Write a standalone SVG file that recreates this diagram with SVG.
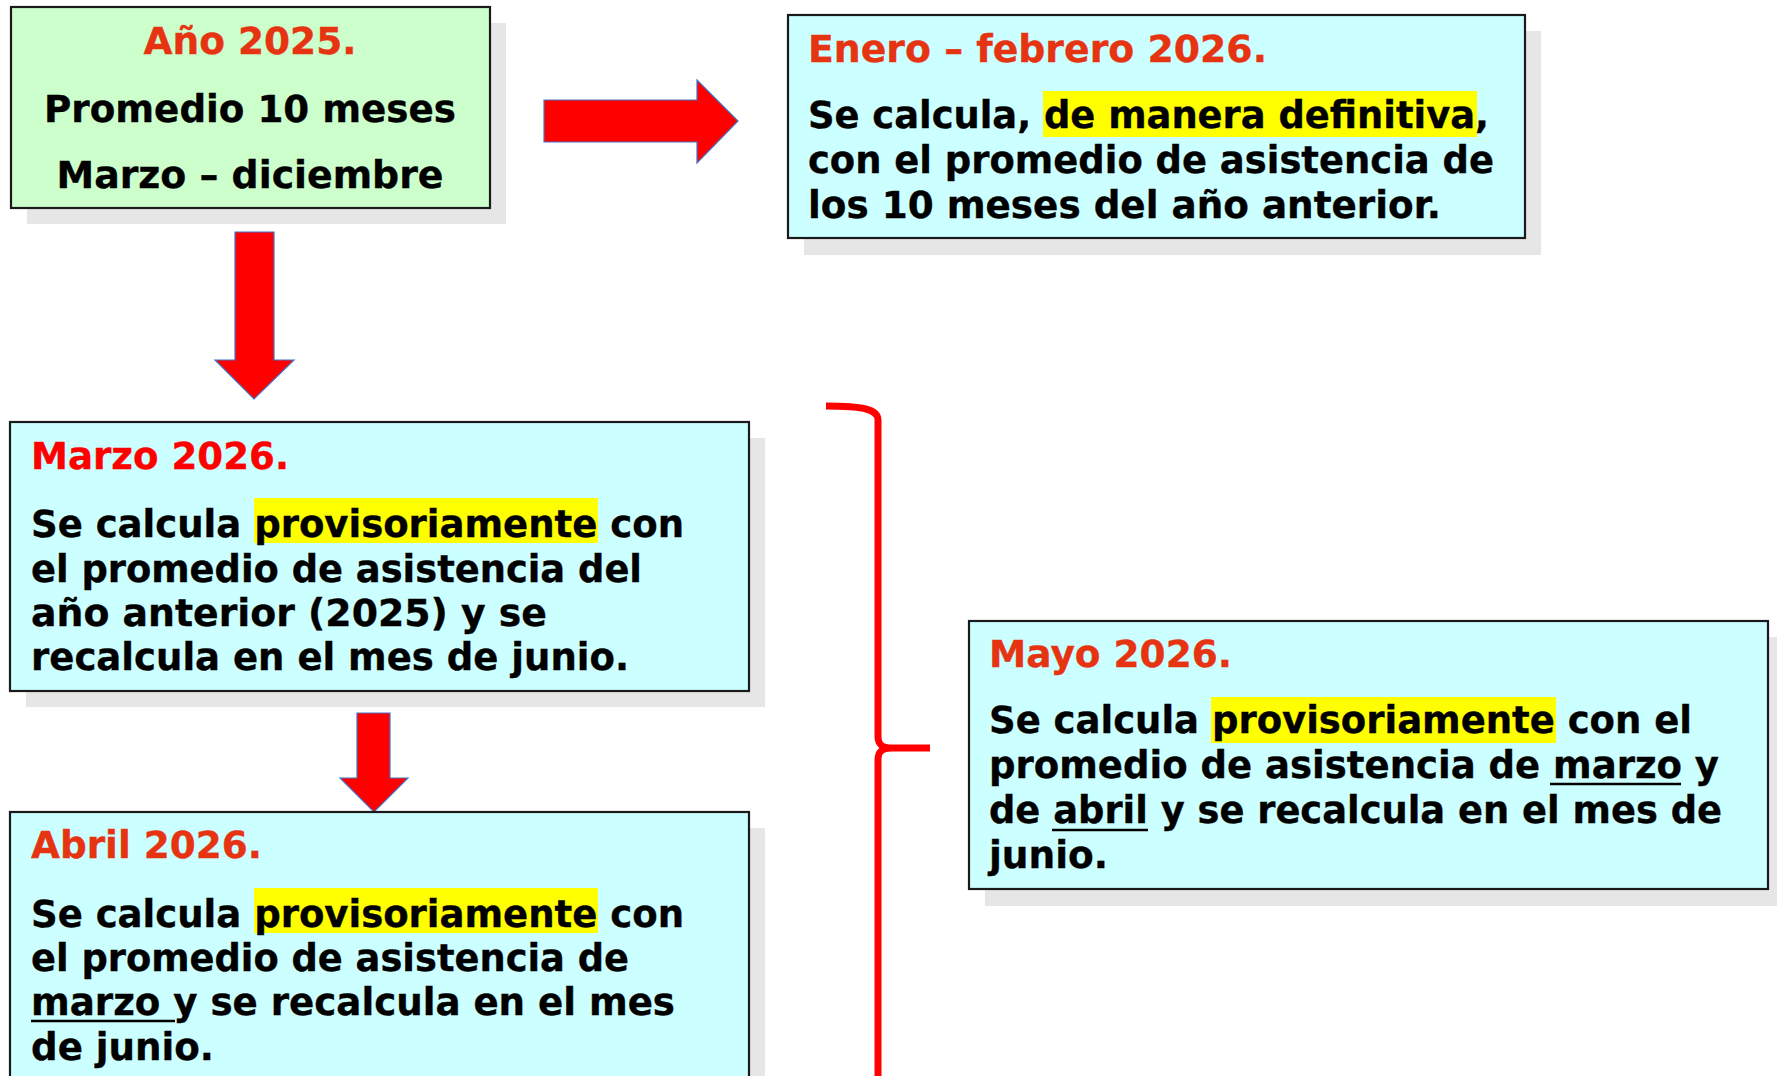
<svg xmlns="http://www.w3.org/2000/svg" width="1777" height="1076" viewBox="0 0 1777 1076">
<style>
text{font-family:"DejaVu Sans",Verdana,sans-serif;font-weight:bold;font-size:37px;fill:#000;stroke:#000;stroke-width:0.35}
.t{fill:#E63312;stroke:#E63312}
.tr{fill:#FF0000;stroke:#FF0000}
.sh{fill:#E6E6E6}
.box{stroke:#1a1a1a;stroke-width:2.2}
.g{fill:#CCFFCC}
.c{fill:#CCFFFF}
.hl{fill:#FFFF00}
.ul{stroke:#000;stroke-width:2.6}
.arrow{fill:#FF0000;stroke:#4472C4;stroke-width:1.2}
.brace{fill:none;stroke:#FF0000;stroke-width:7;stroke-linecap:butt}
</style>
<rect width="1777" height="1076" fill="#fff"/>

<g id="connectors">
<polygon class="arrow" points="544,100 697,100 697,80 738,121 697,163 697,142 544,142"/>
<polygon class="arrow" points="235,232 274,232 274,360 294,360 254,399 215,360 235,360"/>
<polygon class="arrow" points="357,713 390,713 390,778 408,778 374,812 340,778 357,778"/>
<path class="brace" d="M826,406 C862,406 878,409 878,420 L878,736 C878,744 881,748 892,748 L930,748 M892,748 C881,748 878,752 878,760 L878,1080"/>
</g>

<g id="node-2025">
<rect class="sh" x="27" y="23" width="479" height="201"/>
<rect class="box g" x="11" y="7" width="479" height="201"/>
<text class="t" x="250" y="54" text-anchor="middle" textLength="213" lengthAdjust="spacingAndGlyphs">Año 2025.</text>
<text x="250" y="122" text-anchor="middle" textLength="412" lengthAdjust="spacingAndGlyphs">Promedio 10 meses</text>
<text x="250" y="188" text-anchor="middle" textLength="387" lengthAdjust="spacingAndGlyphs">Marzo – diciembre</text>
</g>

<g id="node-enero">
<rect class="sh" x="804" y="31" width="737" height="224"/>
<rect class="box c" x="788" y="15" width="737" height="223"/>
<rect class="hl" x="1043" y="91" width="434" height="46"/>
<text class="t" x="808" y="62" textLength="459" lengthAdjust="spacingAndGlyphs">Enero – febrero 2026.</text>
<text x="808" y="128" textLength="681" lengthAdjust="spacingAndGlyphs">Se calcula, de manera definitiva,</text>
<text x="808" y="173" textLength="686" lengthAdjust="spacingAndGlyphs">con el promedio de asistencia de</text>
<text x="808" y="218" textLength="633" lengthAdjust="spacingAndGlyphs">los 10 meses del año anterior.</text>
</g>

<g id="node-marzo">
<rect class="sh" x="26" y="438" width="739" height="269"/>
<rect class="box c" x="10" y="422" width="739" height="269"/>
<rect class="hl" x="254" y="498" width="344" height="45"/>
<text class="tr" x="31" y="469" textLength="258" lengthAdjust="spacingAndGlyphs">Marzo 2026.</text>
<text x="31" y="537" textLength="653" lengthAdjust="spacingAndGlyphs">Se calcula provisoriamente con</text>
<text x="31" y="582" textLength="611" lengthAdjust="spacingAndGlyphs">el promedio de asistencia del</text>
<text x="31" y="626" textLength="516" lengthAdjust="spacingAndGlyphs">año anterior (2025) y se</text>
<text x="31" y="670" textLength="598" lengthAdjust="spacingAndGlyphs">recalcula en el mes de junio.</text>
</g>

<g id="node-abril">
<rect class="sh" x="26" y="828" width="739" height="300"/>
<rect class="box c" x="10" y="812" width="739" height="300"/>
<rect class="hl" x="254" y="888" width="344" height="45"/>
<text class="t" x="31" y="858" textLength="231" lengthAdjust="spacingAndGlyphs">Abril 2026.</text>
<text x="31" y="927" textLength="653" lengthAdjust="spacingAndGlyphs">Se calcula provisoriamente con</text>
<text x="31" y="971" textLength="598" lengthAdjust="spacingAndGlyphs">el promedio de asistencia de</text>
<text x="31" y="1015" textLength="644" lengthAdjust="spacingAndGlyphs">marzo y se recalcula en el mes</text>
<line class="ul" x1="31" y1="1021" x2="175" y2="1021"/>
<text x="31" y="1060" textLength="183" lengthAdjust="spacingAndGlyphs">de junio.</text>
</g>

<g id="node-mayo">
<rect class="sh" x="985" y="637" width="800" height="269"/>
<rect class="box c" x="969" y="621" width="799" height="268"/>
<rect class="hl" x="1211" y="697" width="345" height="46"/>
<text class="t" x="989" y="667" textLength="243" lengthAdjust="spacingAndGlyphs">Mayo 2026.</text>
<text x="989" y="733" textLength="703" lengthAdjust="spacingAndGlyphs">Se calcula provisoriamente con el</text>
<text x="989" y="778" textLength="730" lengthAdjust="spacingAndGlyphs">promedio de asistencia de marzo y</text>
<line class="ul" x1="1550" y1="784" x2="1681" y2="784"/>
<text x="989" y="823" textLength="733" lengthAdjust="spacingAndGlyphs">de abril y se recalcula en el mes de</text>
<line class="ul" x1="1052" y1="830" x2="1148" y2="830"/>
<text x="989" y="868" textLength="119" lengthAdjust="spacingAndGlyphs">junio.</text>
</g>
</svg>
